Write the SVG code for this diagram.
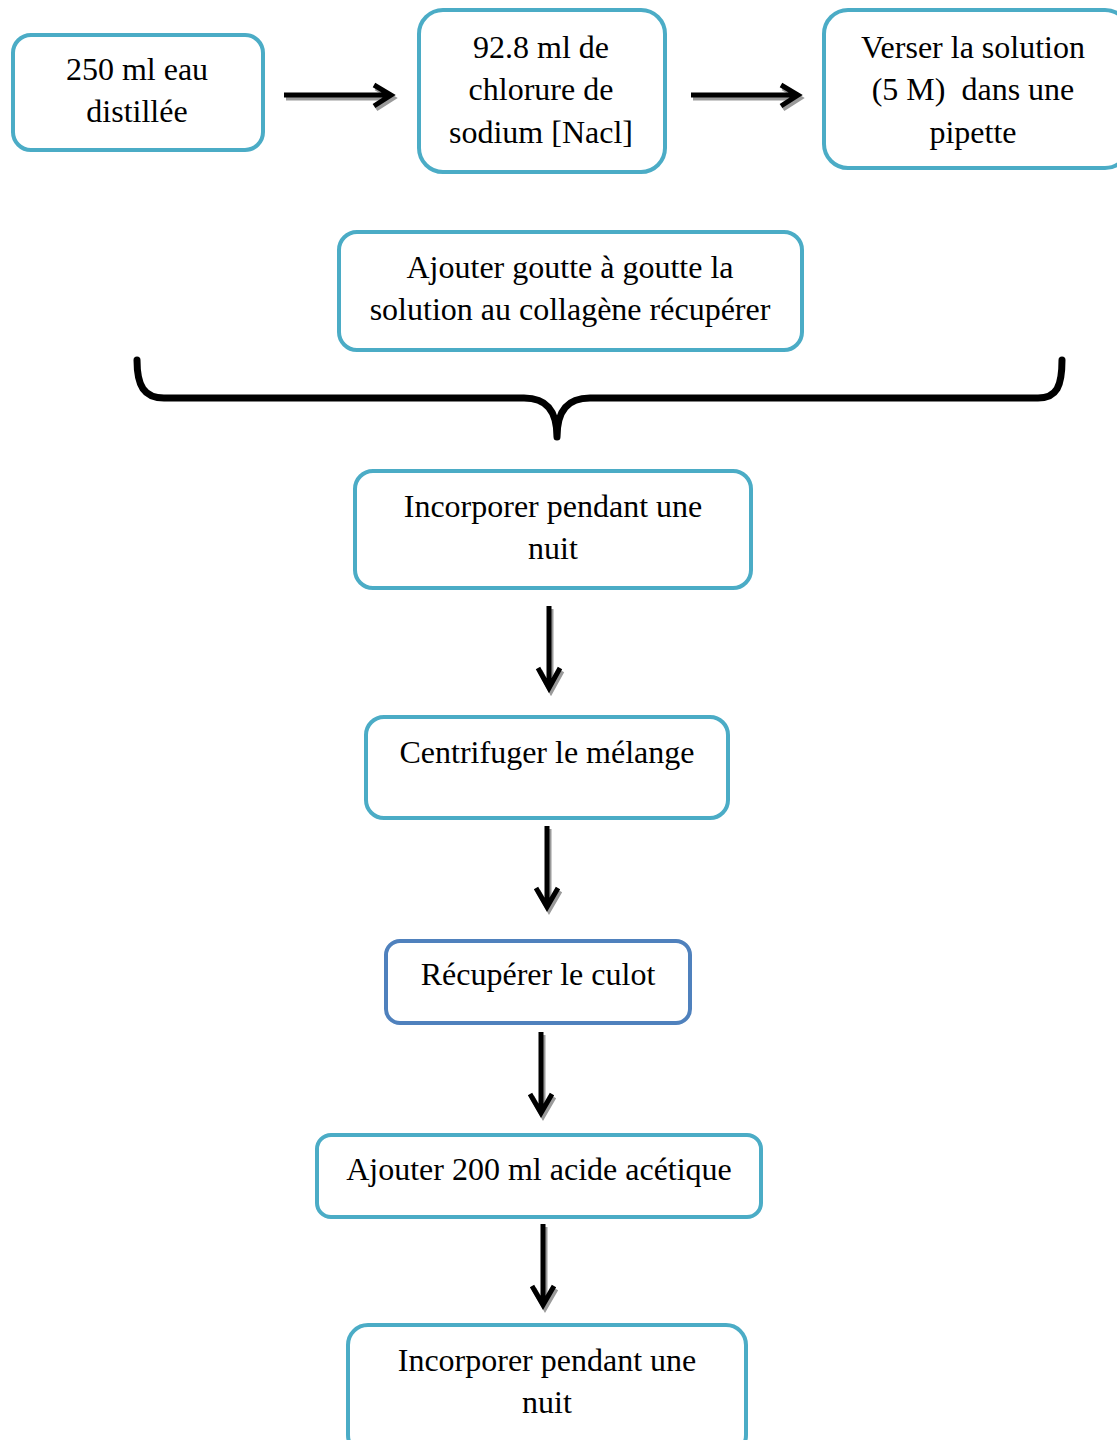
<svg xmlns="http://www.w3.org/2000/svg" width="1117" height="1440" viewBox="0 0 1117 1440">
<defs>
<style>
.box{fill:#fff;stroke:#4BACC6;stroke-width:4}
.box2{fill:#fff;stroke:#4F81BD;stroke-width:4}
text{font-family:"Liberation Serif","Times New Roman",serif;font-size:32px;fill:#000;text-anchor:middle}
.a{fill:none;stroke:#000;stroke-width:5;stroke-linejoin:miter}
.s{fill:none;stroke:#9a9a9a;stroke-width:5;stroke-linejoin:miter}
.brace{fill:none;stroke:#000;stroke-width:7;stroke-linecap:round;stroke-linejoin:round}
</style>
</defs>
<rect width="1117" height="1440" fill="#fff"/>
<g id="connectors">
<g transform="translate(2,3)">
<path class="s" d="M284 95 H391 M374 85 L391 95 L374 106"/>
<path class="s" d="M691 95 H798 M781 85 L798 95 L781 106"/>
<path class="s" d="M549 606 V688 M538 668 L549 688 L560 668"/>
<path class="s" d="M547 826 V907 M536 888 L547 907 L558 888"/>
<path class="s" d="M541 1032 V1113 M530 1094 L541 1113 L552 1094"/>
<path class="s" d="M543 1224 V1305 M532 1286 L543 1305 L554 1286"/>
</g>
<path class="a" d="M284 95 H391 M374 85 L391 95 L374 106"/>
<path class="a" d="M691 95 H798 M781 85 L798 95 L781 106"/>
<path class="a" d="M549 606 V688 M538 668 L549 688 L560 668"/>
<path class="a" d="M547 826 V907 M536 888 L547 907 L558 888"/>
<path class="a" d="M541 1032 V1113 M530 1094 L541 1113 L552 1094"/>
<path class="a" d="M543 1224 V1305 M532 1286 L543 1305 L554 1286"/>
<path class="brace" d="M137 360 C137 386 144 398 164 398 L524 398 C546 398 557 410 557 437 C557 410 568 398 590 398 L1038 398 C1057 398 1062 386 1062 360"/>
</g>
<g id="n1">
<rect class="box" x="13" y="35" width="250" height="115" rx="18"/>
<text x="137" y="80">250 ml eau</text>
<text x="137" y="122">distillée</text>
</g>
<g id="n2">
<rect class="box" x="419" y="10" width="246" height="162" rx="24"/>
<text x="541" y="58">92.8 ml de</text>
<text x="541" y="100">chlorure de</text>
<text x="541" y="143">sodium [Nacl]</text>
</g>
<g id="n3">
<rect class="box" x="824" y="10" width="305" height="158" rx="24"/>
<text x="973" y="58">Verser la solution</text>
<text x="973" y="100" xml:space="preserve">(5 M)  dans une</text>
<text x="973" y="143">pipette</text>
</g>
<g id="n4">
<rect class="box" x="339" y="232" width="463" height="118" rx="18"/>
<text x="570" y="278">Ajouter goutte à goutte la</text>
<text x="570" y="320">solution au collagène récupérer</text>
</g>
<g id="n5">
<rect class="box" x="355" y="471" width="396" height="117" rx="18"/>
<text x="553" y="517">Incorporer pendant une</text>
<text x="553" y="559">nuit</text>
</g>
<g id="n6">
<rect class="box" x="366" y="717" width="362" height="101" rx="18"/>
<text x="547" y="763">Centrifuger le mélange</text>
</g>
<g id="n7">
<rect class="box2" x="386" y="941" width="304" height="82" rx="14"/>
<text x="538" y="985">Récupérer le culot</text>
</g>
<g id="n8">
<rect class="box" x="317" y="1135" width="444" height="82" rx="14"/>
<text x="539" y="1180">Ajouter 200 ml acide acétique</text>
</g>
<g id="n9">
<rect class="box" x="348" y="1325" width="398" height="130" rx="20"/>
<text x="547" y="1371">Incorporer pendant une</text>
<text x="547" y="1413">nuit</text>
</g>
</svg>
